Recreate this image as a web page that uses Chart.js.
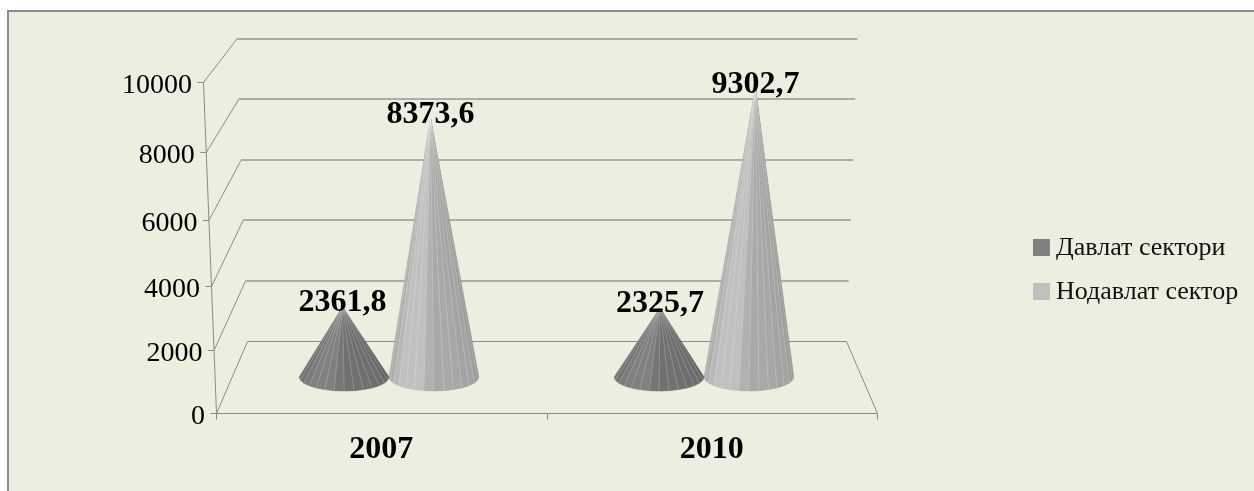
<!DOCTYPE html>
<html>
<head>
<meta charset="utf-8">
<style>
  html, body { margin: 0; padding: 0; background: #fff; }
  #wrap { position: relative; width: 1254px; height: 491px; overflow: hidden; }
  #legend { position: absolute; left: 1033px; top: 225px; font: 26px 'Liberation Serif', serif; color: #111; white-space: nowrap; }
  #legend div { display: flex; align-items: center; height: 44px; }
  #legend i { display: block; width: 17px; height: 17px; margin-right: 6px; }
</style>
<script src="https://cdn.jsdelivr.net/npm/chart.js@4/dist/chart.umd.js"></script>
</head>
<body>
<div id="wrap"><canvas id="chart"></canvas><div id="legend"></div></div>
<script>
const categories = ['2007', '2010'];
const seriesNames = ['Давлат сектори', 'Нодавлат сектор'];
const seriesColors = ['#808080', '#c0c0c0'];
const davlatValues = [2361.8, 2325.7];
const nodavlatValues = [8373.6, 9302.7];
const yTicks = [0, 2000, 4000, 6000, 8000, 10000];

const FONT = "'Liberation Serif', serif";
const LINE = '#8a8a8a';
const DEPTH_X = 31, DEPTH_Y = 72;
const CONE_RY = 14;

// y axis seen in perspective: steps grow a little going up and it leans left
class TiltedScale extends Chart.LinearScale {
    static id = 'tilted';
    static defaults = Chart.LinearScale.defaults;

    getPixelForValue(value) {
        const t = (value - this.min) / (this.max - this.min);
        const f = t / (1 + 0.066 * (1 - t));
        return this.bottom - f * (this.bottom - this.top);
    }

    axisX(y) {
        return this.right - 13 * (this.bottom - y) / (this.bottom - this.top);
    }

    _computeLabelItems(area) {
        const items = super._computeLabelItems(area);
        items.forEach(item => {
            const tr = item.options.translation;
            tr[0] = this.axisX(tr[1]) - 11;
            tr[1] += 4;
        });
        return items;
    }
}

// facet brightness from left to right of a cone
const facetShade = [0.9, 0.96, 1, 1, 0.92, 0.88, 0.87, 0.85, 0.82, 0.78];

function shadeColor(hex, k) {
    const v = parseInt(hex.slice(1, 3), 16);
    const c = Math.round(v * k);
    return `rgb(${c}, ${c}, ${c})`;
}

// where the tip of a bar lands on the plane halfway into the box
function conePlace(bar, area) {
    const midX = (area.left + area.right) / 2;
    const scaleX = 1 - DEPTH_X / (area.right - area.left);
    const t = (area.bottom - bar.y) / (area.bottom - area.top);
    const cx = midX + (bar.x - midX) * scaleX;
    const cy = area.bottom - DEPTH_Y / 2;
    return {
        cx,
        cy,
        r: bar.width / 2 * scaleX,
        tipX: cx + (cx - midX) * 0.035 * t,
        tipY: cy - (area.bottom - bar.y) * 0.94
    };
}

function drawCone(ctx, bar, color, area) {
    const { cx, cy, r, tipX, tipY } = conePlace(bar, area);
    const n = 14;
    const pts = [];
    for (let i = 0; i <= n; i++) {
        const a = Math.PI - Math.PI * i / n;
        pts.push([cx + r * Math.cos(a), cy + CONE_RY * Math.sin(a)]);
    }

    ctx.save();
    for (let i = 0; i < n; i++) {
        const k = facetShade[Math.floor(i / n * facetShade.length)];
        ctx.fillStyle = shadeColor(color, k);
        ctx.strokeStyle = ctx.fillStyle;
        ctx.lineWidth = 0.6;
        ctx.beginPath();
        ctx.moveTo(tipX, tipY);
        ctx.lineTo(pts[i][0], pts[i][1]);
        ctx.lineTo(pts[i + 1][0], pts[i + 1][1]);
        ctx.closePath();
        ctx.fill();
        ctx.stroke();
    }
    // thin light seams between the facets
    ctx.strokeStyle = 'rgba(255, 255, 255, 0.3)';
    ctx.lineWidth = 0.6;
    for (let i = 1; i < n; i++) {
        ctx.beginPath();
        ctx.moveTo(tipX, tipY);
        ctx.lineTo(pts[i][0], pts[i][1]);
        ctx.stroke();
    }
    ctx.restore();
}

class ConeController extends Chart.BarController {
    static id = 'cone';
    static defaults = Chart.BarController.defaults;
    static overrides = Chart.BarController.overrides;

    draw() {
        const color = this.getDataset().backgroundColor;
        this.getMeta().data.forEach(bar => drawCone(this.chart.ctx, bar, color, this.chart.chartArea));
    }
}

Chart.register(TiltedScale, ConeController);

function strokeLine(ctx, x1, y1, x2, y2) {
    ctx.beginPath();
    ctx.moveTo(x1, y1);
    ctx.lineTo(x2, y2);
    ctx.stroke();
}

const framePlugin = {
    id: 'frame',
    beforeDraw(chart) {
        const { ctx, width, height } = chart;
        ctx.save();
        ctx.fillStyle = '#ebefdf';
        ctx.fillRect(8, 11, width - 8, height - 11);
        ctx.fillStyle = '#8c8c8c';
        ctx.fillRect(7, 10, width - 7, 2);
        ctx.fillRect(7, 10, 2, height - 10);
        ctx.restore();
    }
};

// floor, back wall and axis lines of the 3D box
const boxPlugin = {
    id: 'box',
    beforeDatasetsDraw(chart) {
        const { ctx, chartArea: area, scales } = chart;
        const y = scales.y;
        const h = area.bottom - area.top;
        ctx.save();
        ctx.strokeStyle = LINE;
        ctx.lineWidth = 1;
        ctx.translate(0.5, 0.5);

        yTicks.forEach(v => {
            const py = Math.round(y.getPixelForValue(v));
            const px = y.axisX(py);
            const f = v / y.max;
            const backY = Math.round(area.bottom - DEPTH_Y - 0.9124 * h * f);
            const backL = area.left + DEPTH_X - 11 * f;
            const backR = area.right - DEPTH_X + 11 * f;
            strokeLine(ctx, px - 6, py, px, py);
            strokeLine(ctx, px, py, backL, backY);
            // the upper wall lines straddle two pixel rows, softer and wider
            ctx.strokeStyle = v > 0 ? '#6e6e6e' : LINE;
            strokeLine(ctx, backL, v > 0 ? backY - 0.5 : backY, backR, v > 0 ? backY - 0.5 : backY);
            ctx.strokeStyle = LINE;
        });
        strokeLine(ctx, y.axisX(area.top), area.top, area.left, area.bottom);

        strokeLine(ctx, area.left, area.bottom, area.right, area.bottom);
        strokeLine(ctx, area.right, area.bottom, area.right - DEPTH_X, area.bottom - DEPTH_Y);
        [area.left, (area.left + area.right) / 2, area.right].forEach(px => {
            strokeLine(ctx, Math.round(px), area.bottom, Math.round(px), area.bottom + 6);
        });
        ctx.restore();
    }
};

// value labels over the cone tips, decimal comma as in the source
const valueLabelPlugin = {
    id: 'valueLabels',
    afterDatasetsDraw(chart) {
        const { ctx, chartArea: area } = chart;
        ctx.save();
        ctx.font = `bold 32px ${FONT}`;
        ctx.fillStyle = '#000';
        ctx.textAlign = 'center';
        ctx.textBaseline = 'middle';
        chart.data.datasets.forEach((ds, di) => {
            chart.getDatasetMeta(di).data.forEach((bar, i) => {
                const { tipX, tipY } = conePlace(bar, area);
                ctx.fillText(String(ds.data[i]).replace('.', ','), tipX, tipY - 4);
            });
        });
        ctx.restore();
    }
};

const chart = new Chart(document.getElementById('chart'), {
    type: 'cone',
    data: {
        labels: categories,
        datasets: [
            { label: seriesNames[0], data: davlatValues, backgroundColor: seriesColors[0] },
            { label: seriesNames[1], data: nodavlatValues, backgroundColor: seriesColors[1] }
        ]
    },
    options: {
        responsive: true,
        maintainAspectRatio: false,
        animation: false,
        categoryPercentage: 0.57,
        barPercentage: 1,
        layout: { padding: { top: 82, bottom: 0, right: 377, left: 0 } },
        scales: {
            x: {
                type: 'category',
                grid: { display: false },
                border: { display: false },
                ticks: {
                    color: '#000',
                    padding: 10,
                    font: { family: FONT, size: 32, weight: 'bold' }
                },
                afterFit(scale) {
                    scale.height = 78;
                    scale.paddingLeft = 0;
                    scale.paddingRight = 0;
                }
            },
            y: {
                type: 'tilted',
                min: 0,
                max: 10000,
                position: 'left',
                grid: { display: false },
                border: { display: false },
                ticks: {
                    stepSize: 2000,
                    color: '#000',
                    font: { family: FONT, size: 28 },
                    callback: v => String(v)
                },
                afterFit(scale) {
                    scale.width = 216;
                    scale.paddingTop = 0;
                    scale.paddingBottom = 0;
                }
            }
        },
        plugins: {
            legend: { display: false },
            tooltip: { enabled: false }
        }
    },
    plugins: [framePlugin, boxPlugin, valueLabelPlugin]
});

// legend beside the chart, built from the datasets
document.getElementById('legend').innerHTML = chart.data.datasets
    .map(ds => `<div><i style="background:${ds.backgroundColor}"></i>${ds.label}</div>`)
    .join('');
</script>
</body>
</html>
